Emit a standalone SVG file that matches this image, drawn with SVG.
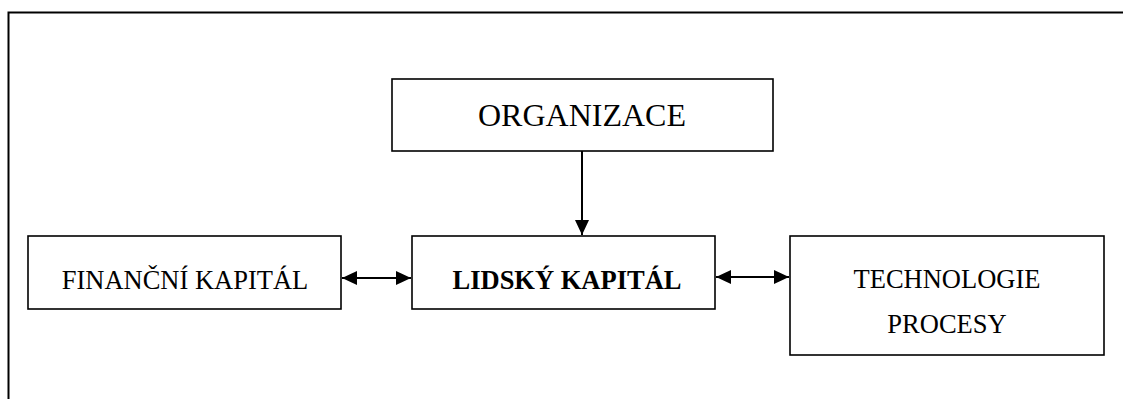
<svg xmlns="http://www.w3.org/2000/svg" width="1123" height="399" viewBox="0 0 1123 399">
<style>
.box{fill:#fff;stroke:#000;stroke-width:1.6}
.t{font-family:"Liberation Serif","Times New Roman",serif;fill:#000;text-anchor:middle}
.c{stroke:#000;stroke-width:2;fill:none}
</style>
<defs>
<marker id="ah" viewBox="0 0 15 14" refX="15" refY="7" markerWidth="15" markerHeight="14" markerUnits="userSpaceOnUse" orient="auto-start-reverse">
<path d="M0,0 L15,7 L0,14 Z" fill="#000"/>
</marker>
</defs>
<rect width="1123" height="399" fill="#fff"/>
<path d="M8.5,399 V12.5 H1123" fill="none" stroke="#000" stroke-width="2"/>
<g id="organizace">
<rect class="box" x="392" y="79" width="381" height="72"/>
<text class="t" x="582" y="126" font-size="32">ORGANIZACE</text>
</g>
<g id="financni">
<rect class="box" x="28" y="236" width="313" height="73"/>
<text class="t" x="185" y="289" font-size="26.5">FINANČNÍ KAPITÁL</text>
</g>
<g id="lidsky">
<rect class="box" x="412" y="236" width="303" height="73"/>
<text class="t" x="567" y="289" font-size="26.5" font-weight="bold">LIDSKÝ KAPITÁL</text>
</g>
<g id="technologie">
<rect class="box" x="790" y="236" width="314" height="119"/>
<text class="t" x="947" y="288" font-size="26.5">TECHNOLOGIE</text>
<text class="t" x="947" y="333" font-size="26.5">PROCESY</text>
</g>
<g id="connectors">
<line class="c" x1="582" y1="151" x2="582" y2="235" marker-end="url(#ah)"/>
<line class="c" x1="342" y1="278" x2="411" y2="278" marker-start="url(#ah)" marker-end="url(#ah)"/>
<line class="c" x1="716" y1="277" x2="789" y2="277" marker-start="url(#ah)" marker-end="url(#ah)"/>
</g>
</svg>
